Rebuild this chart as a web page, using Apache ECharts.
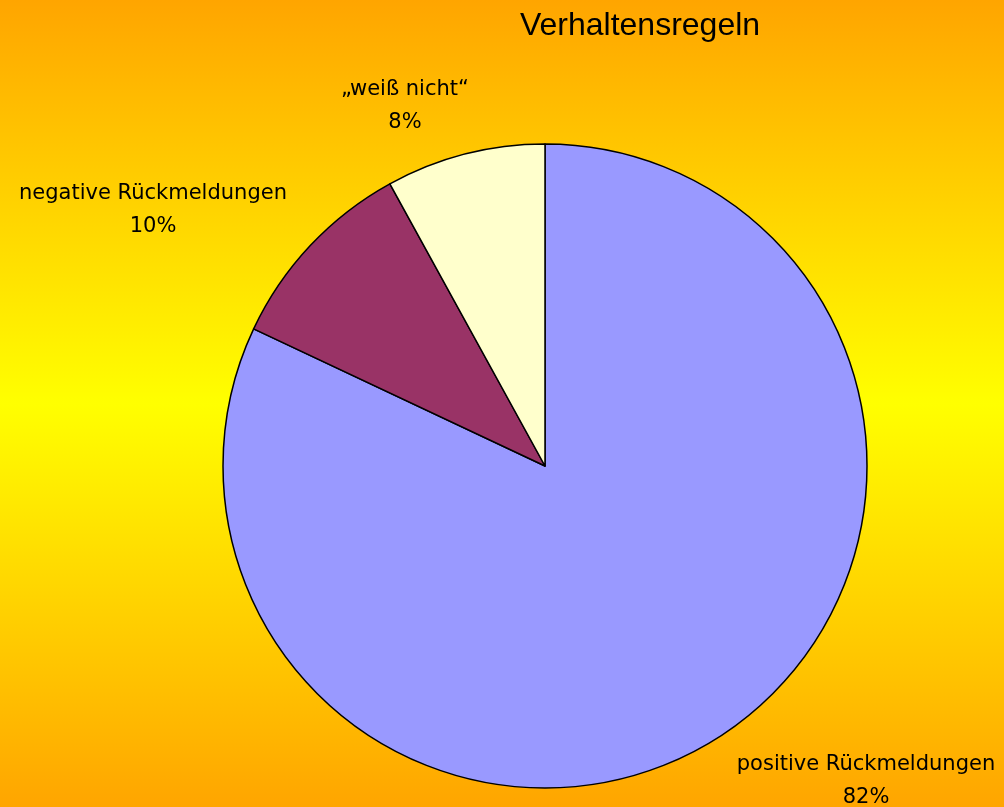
<!DOCTYPE html>
<html>
<head>
<meta charset="utf-8">
<script src="https://cdn.jsdelivr.net/npm/echarts@6/dist/echarts.min.js"></script>
<style>
  html, body { margin: 0; padding: 0; }
  #chart { width: 1004px; height: 807px; }
</style>
</head>
<body>
<div id="chart"></div>
<script>
// Daten
var categories = ["positive Rückmeldungen", "negative Rückmeldungen", "„weiß nicht“"];
var values = [82, 10, 8];
var colors = ["#9999FF", "#993366", "#FFFFCC"];

// label placement (anchor centre of each label block)
var labelPos = [[866, 781], [153, 210], [405, 106]];

var pieData = [];
for (var i = 0; i < categories.length; i++) {
  pieData.push({ name: categories[i], value: values[i], itemStyle: { color: colors[i] } });
}

var chart = echarts.init(document.getElementById("chart"));
var option = {
  animation: false,
  backgroundColor: {
    type: "linear", x: 0, y: 0, x2: 0, y2: 1,
    colorStops: [
      { offset: 0, color: "#FFA500" },
      { offset: 0.5, color: "#FFFF00" },
      { offset: 1, color: "#FFA500" }
    ]
  },
  title: {
    text: "Verhaltensregeln",
    left: 635,
    top: 5,
    textAlign: "center",
    textStyle: { fontFamily: "Liberation Sans", fontSize: 32, fontWeight: "normal", color: "#000" }
  },
  series: [
    {
      type: "pie",
      center: [545, 466],
      radius: 322,
      startAngle: 90,
      clockwise: true,
      data: pieData,
      itemStyle: { borderColor: "#000", borderWidth: 1.5 },
      label: {
        show: true,
        position: "outside",
        formatter: "{b}\n{d}%",
        fontFamily: "DejaVu Sans",
        fontSize: 21,
        lineHeight: 33,
        color: "#000",
        align: "center",
        width: 320,
        overflow: "none"
      },
      labelLine: { show: false },
      labelLayout: function (params) {
        var p = labelPos[params.dataIndex];
        return { x: p[0], y: p[1], align: "center", verticalAlign: "middle" };
      },
      emphasis: { disabled: true }
    }
  ]
};
chart.setOption(option);
</script>
</body>
</html>
